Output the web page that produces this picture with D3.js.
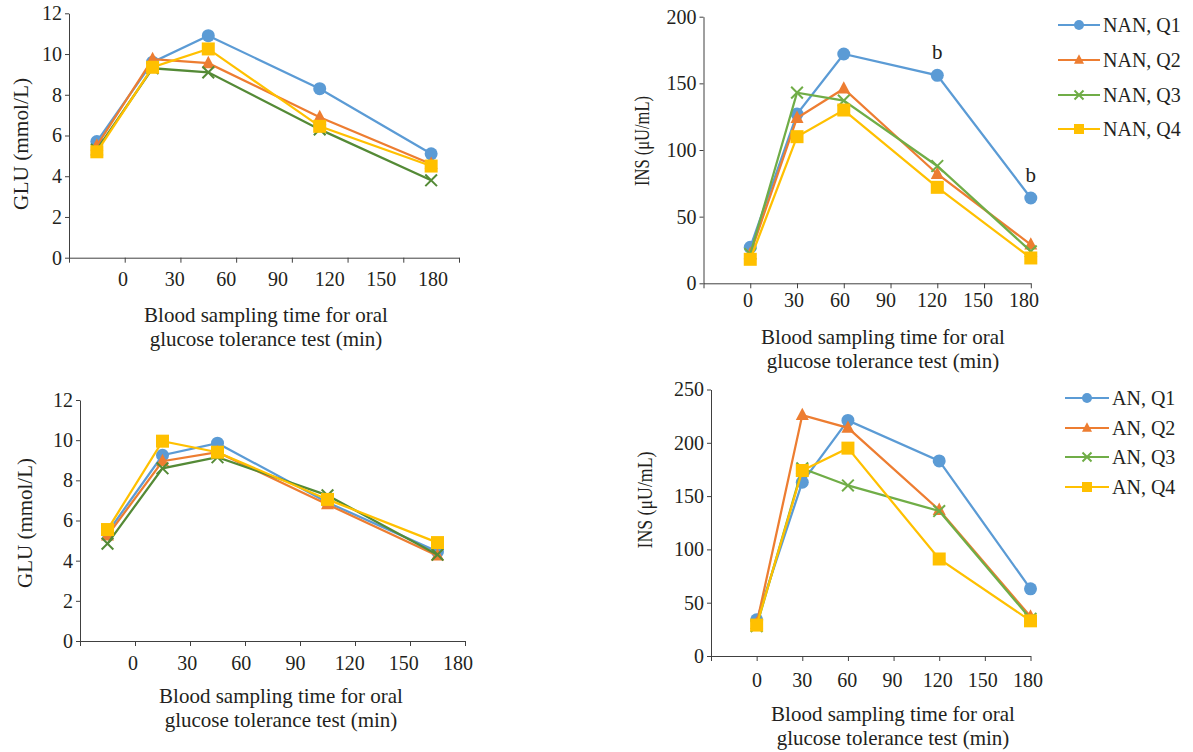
<!DOCTYPE html>
<html>
<head>
<meta charset="utf-8">
<script src="https://cdn.jsdelivr.net/npm/d3@7"></script>
<style>
  body { margin: 0; background: #fff; }
  text { font-family: "Liberation Serif", "Times New Roman", serif; fill: #231f20; }
</style>
</head>
<body>
<script>
// sampling times and axis labels
var times = [0, 30, 60, 120, 180];
var tickLabels = [0, 30, 60, 90, 120, 150, 180];

var nanNames = ["NAN, Q1", "NAN, Q2", "NAN, Q3", "NAN, Q4"];
var anNames = ["AN, Q1", "AN, Q2", "AN, Q3", "AN, Q4"];

// NAN group, glucose (mmol/L)
var nanGluQ1 = [5.7, 9.6, 10.9, 8.3, 5.1];
var nanGluQ2 = [5.5, 9.75, 9.55, 6.9, 4.6];
var nanGluQ3 = [5.3, 9.3, 9.1, 6.3, 3.8];
var nanGluQ4 = [5.2, 9.35, 10.25, 6.45, 4.5];

// NAN group, insulin (uU/mL)
var nanInsQ1 = [27, 127, 172, 156, 64];
var nanInsQ2 = [22, 124, 146, 82, 29];
var nanInsQ3 = [22, 143, 137, 88, 24];
var nanInsQ4 = [18, 110, 130, 72, 19];

// AN group, glucose (mmol/L)
var anGluQ1 = [5.4, 9.25, 9.85, 6.9, 4.45];
var anGluQ2 = [5.25, 8.95, 9.4, 6.8, 4.25];
var anGluQ3 = [4.85, 8.6, 9.15, 7.25, 4.3];
var anGluQ4 = [5.55, 9.95, 9.4, 7.05, 4.9];

// AN group, insulin (uU/mL)
var anInsQ1 = [34, 163, 221, 183, 63];
var anInsQ2 = [30, 226, 214, 137, 37];
var anInsQ3 = [28, 176, 160, 136, 35];
var anInsQ4 = [29, 174, 195, 91, 33];

var svg = d3.select("body").append("svg")
    .attr("width", 1193)
    .attr("height", 752);

var markers = ["circle", "triangle", "x", "square"];

// draw one marker shape centred at 0,0
function drawMarker(g, kind, color, s) {
    if (kind === "circle") {
        g.append("circle").attr("r", s / 2).attr("fill", color);
    } else if (kind === "square") {
        g.append("rect").attr("x", -s / 2).attr("y", -s / 2)
            .attr("width", s).attr("height", s).attr("fill", color);
    } else if (kind === "triangle") {
        var h = s * 0.95;
        g.append("path")
            .attr("d", `M0,${-h * 0.6}L${s / 2},${h * 0.4}L${-s / 2},${h * 0.4}Z`)
            .attr("fill", color);
    } else {
        var r = s * 0.45;
        g.append("path")
            .attr("d", `M${-r},${-r}L${r},${r}M${-r},${r}L${r},${-r}`)
            .attr("stroke", color).attr("stroke-width", 2).attr("fill", "none");
    }
}

function drawPanel(cfg) {
    var x = d3.scaleLinear().domain(cfg.xDomain).range(cfg.xRange);
    var y = d3.scaleLinear().domain([0, cfg.yMax]).range(cfg.yRange);
    var labelX = d3.scaleLinear().domain([0, 180]).range(cfg.labelRange);

    var g = svg.append("g");

    // y axis
    var yAxis = g.append("g")
        .attr("transform", `translate(${cfg.xRange[0]},0)`)
        .call(d3.axisLeft(y)
            .tickValues(d3.range(0, cfg.yMax + 1, cfg.yStep))
            .tickSize(4).tickSizeOuter(0).tickPadding(3));
    yAxis.attr("font-family", null);
    yAxis.selectAll("path, line").attr("stroke", "#404040");
    yAxis.selectAll("text")
        .style("font-size", "20px").attr("fill", "#231f20");

    // x axis: ticks between categories, labels drawn apart
    var xAxis = g.append("g")
        .attr("transform", `translate(0,${cfg.yRange[0]})`)
        .call(d3.axisBottom(x)
            .tickValues(d3.range(cfg.xDomain[0], cfg.xDomain[1] + 1, 30))
            .tickSize(5).tickSizeOuter(0).tickFormat(""));
    xAxis.selectAll("path, line").attr("stroke", "#404040");

    g.selectAll(".xlab")
        .data(tickLabels)
        .enter().append("text")
        .attr("x", d => labelX(d))
        .attr("y", cfg.yRange[0] + cfg.labelDy)
        .attr("text-anchor", "middle")
        .style("font-size", "20px")
        .text(d => d);

    // axis titles
    var xt = g.append("text")
        .attr("text-anchor", "middle")
        .style("font-size", "21px");
    xt.append("tspan").attr("x", cfg.xTitle[0]).attr("y", cfg.xTitle[1]).text("Blood sampling time for oral");
    xt.append("tspan").attr("x", cfg.xTitle[0]).attr("y", cfg.xTitle[1] + 24).text("glucose tolerance test (min)");

    g.append("text")
        .attr("transform", `translate(${cfg.yTitle[0]},${cfg.yTitle[1]}) rotate(-90)`)
        .attr("text-anchor", "middle")
        .attr("dy", "0.35em")
        .attr("textLength", cfg.yTitle[2])
        .attr("lengthAdjust", "spacingAndGlyphs")
        .style("font-size", "21px")
        .text(cfg.yLabel);

    // series
    var line = d3.line()
        .x((d, i) => x(times[i]))
        .y(d => y(d));

    cfg.series.forEach(function(vals, k) {
        var color = cfg.colors[k];
        g.append("path")
            .datum(vals)
            .attr("d", line)
            .attr("fill", "none")
            .attr("stroke", color)
            .attr("stroke-width", 2.25);
        vals.forEach(function(v, i) {
            var m = g.append("g").attr("transform", `translate(${x(times[i])},${y(v)})`);
            drawMarker(m, markers[k], color, 13);
        });
    });

    // legend
    if (cfg.legend) {
        var L = cfg.legend;
        cfg.names.forEach(function(name, k) {
            var ly = L.y[k];
            var color = cfg.colors[k];
            g.append("line")
                .attr("x1", L.x0).attr("x2", L.x1)
                .attr("y1", ly).attr("y2", ly)
                .attr("stroke", color).attr("stroke-width", 2);
            var m = g.append("g").attr("transform", `translate(${(L.x0 + L.x1) / 2},${ly})`);
            drawMarker(m, markers[k], color, 10);
            g.append("text")
                .attr("x", L.x1 + 3)
                .attr("y", ly)
                .attr("dy", "0.35em")
                .style("font-size", "20px")
                .text(name);
        });
    }

    // significance marks
    (cfg.marks || []).forEach(function(mk) {
        g.append("text")
            .attr("x", x(times[mk.i]))
            .attr("y", y(cfg.series[0][mk.i]) - 16)
            .attr("text-anchor", "middle")
            .style("font-size", "21px")
            .attr("fill", "#2e75b6")
            .text("b");
    });
}

var insColors = ["#5b9bd5", "#ed7d31", "#70ad47", "#ffc000"];
var gluColors = ["#5b9bd5", "#ed7d31", "#548a36", "#ffc000"];

drawPanel({
    series: [nanGluQ1, nanGluQ2, nanGluQ3, nanGluQ4],
    names: nanNames, colors: gluColors,
    xDomain: [-15, 195], xRange: [69, 459], labelRange: [123, 433], labelDy: 28,
    yMax: 12, yStep: 2, yRange: [257.7, 13.3],
    yLabel: "GLU (mmol/L)", yTitle: [21, 144, 132],
    xTitle: [266, 322]
});

drawPanel({
    series: [nanInsQ1, nanInsQ2, nanInsQ3, nanInsQ4],
    names: nanNames, colors: insColors,
    xDomain: [-30, 180], xRange: [703.5, 1030.8], labelRange: [748, 1024], labelDy: 24,
    yMax: 200, yStep: 50, yRange: [283.3, 16.7],
    yLabel: "INS (\u03bcU/mL)", yTitle: [642, 141, 90],
    xTitle: [883, 344],
    legend: { x0: 1058, x1: 1100, y: [25, 60, 95, 129] },
    marks: [{ i: 3 }, { i: 4 }]
});

drawPanel({
    series: [anGluQ1, anGluQ2, anGluQ3, anGluQ4],
    names: anNames, colors: gluColors,
    xDomain: [-15, 195], xRange: [80, 465], labelRange: [133, 458], labelDy: 29,
    yMax: 12, yStep: 2, yRange: [641, 400],
    yLabel: "GLU (mmol/L)", yTitle: [25, 523, 130],
    xTitle: [281, 703]
});

drawPanel({
    series: [anInsQ1, anInsQ2, anInsQ3, anInsQ4],
    names: anNames, colors: insColors,
    xDomain: [-30, 180], xRange: [711, 1030.5], labelRange: [757, 1028], labelDy: 31,
    yMax: 250, yStep: 50, yRange: [656, 389.5],
    yLabel: "INS (\u03bcU/mL)", yTitle: [645, 500, 97],
    xTitle: [893, 721],
    legend: { x0: 1065, x1: 1109, y: [398, 428, 457, 487] }
});
</script>
</body>
</html>
